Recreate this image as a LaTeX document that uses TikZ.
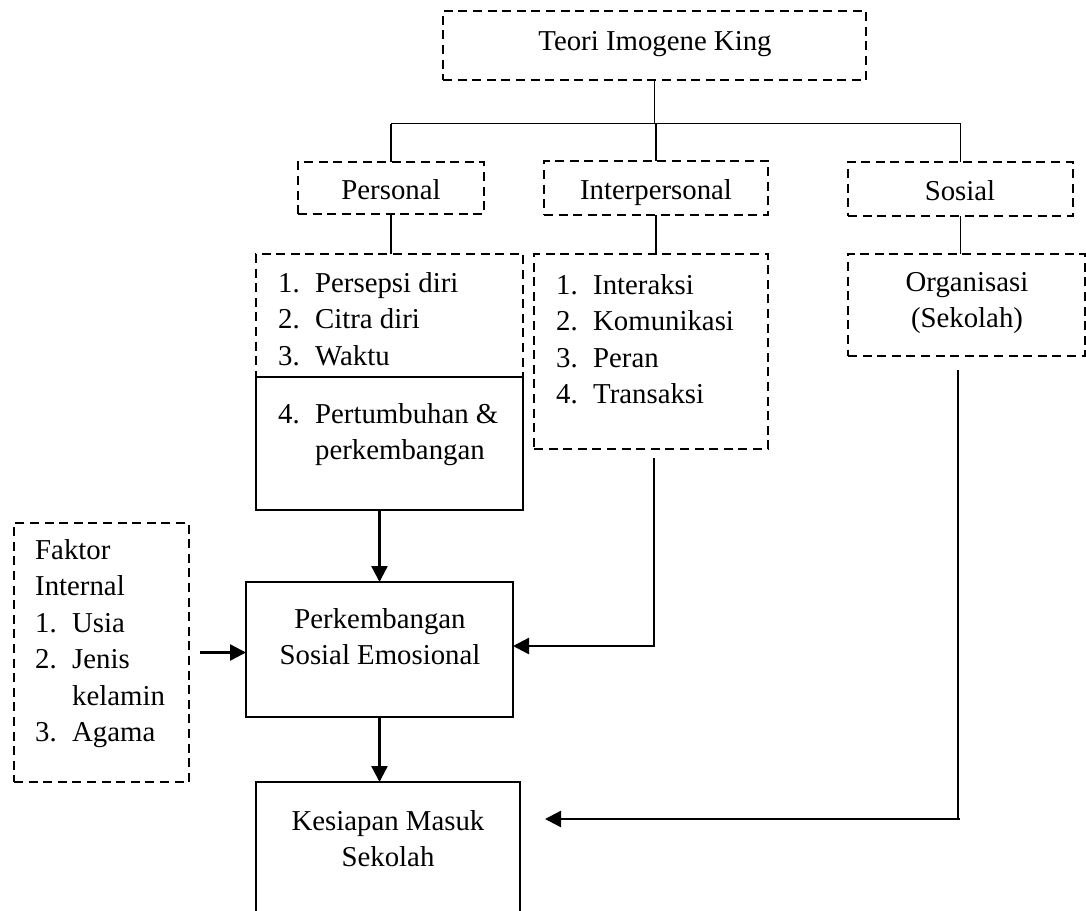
\documentclass[tikz,border=0pt]{standalone}
\usepackage{fontspec}
\setmainfont{Liberation Serif}
\usetikzlibrary{arrows.meta,calc}
\newcommand\itm[1]{\makebox[37pt][l]{#1}}
\begin{document}
\begin{tikzpicture}[x=1pt,y=-1pt,
  dbox/.style={draw,line width=2.6pt,dash pattern=on 9pt off 5.6pt,inner sep=0pt,outer sep=0pt},
  sbox/.style={draw,line width=2.6pt,inner sep=0pt,outer sep=0pt},
  txt/.style={font=\fontsize{28.8}{36.5}\selectfont,inner sep=0pt,align=left},
  ctxt/.style={font=\fontsize{28.8}{36.5}\selectfont,inner sep=0pt,align=center},
  conn/.style={line width=1.3pt},
  arr/.style={line width=2.4pt,-{Triangle[length=16pt,width=16pt]}}
]
\useasboundingbox (0,0) rectangle (1086,910);

% level 0 and 1
\node[dbox,minimum width=423pt,minimum height=69pt] (top) at (654.5,45.5) {};
\node[dbox,minimum width=186pt,minimum height=52pt] (per) at (391,188) {};
\node[dbox,minimum width=224pt,minimum height=54pt] (int) at (656,188) {};
\node[dbox,minimum width=225pt,minimum height=54pt] (sos) at (960.5,189) {};
\node[ctxt,anchor=base] (toptxt) at (655,50) {Teori Imogene King};
\node[ctxt,anchor=base] (pertxt) at (391,199) {Personal};
\node[ctxt,anchor=base] (inttxt) at (656,199) {Interpersonal};
\node[ctxt,anchor=base] (sostxt) at (960,200) {Sosial};

% level 2 boxes
\node[dbox,minimum width=267pt,minimum height=123pt] (plist) at (389.5,315.5) {};
\node[sbox,fill=white,minimum width=267pt,minimum height=133pt] (pert) at (389.5,443.5) {};
\node[dbox,minimum width=234pt,minimum height=195pt] (ilist) at (651,351.5) {};
\node[dbox,minimum width=237pt,minimum height=102pt] (org) at (966.5,305) {};

\node[txt,anchor=north west] (ptxt) at (278,272) {\itm{1.}Persepsi diri\\\itm{2.}Citra diri\\\itm{3.}Waktu};
\node[txt,anchor=north west] (perttxt) at (278,403) {\itm{4.}Pertumbuhan \&\\\itm{}perkembangan};
\node[txt,anchor=north west] (itxt) at (556,274) {\itm{1.}Interaksi\\\itm{2.}Komunikasi\\\itm{3.}Peran\\\itm{4.}Transaksi};
\node[ctxt,anchor=north] (otxt) at (967,272) {Organisasi\\(Sekolah)};

% lower boxes
\node[dbox,minimum width=175pt,minimum height=259pt] (fak) at (101.5,652.5) {};
\node[txt,anchor=north west] (ftxt) at (35,539) {Faktor\\Internal\\\itm{1.}Usia\\\itm{2.}Jenis\\\itm{}kelamin\\\itm{3.}Agama};
\node[sbox,minimum width=267pt,minimum height=135pt] (pk) at (379.5,649.5) {};
\node[ctxt,anchor=north] (pktxt) at (380,608) {Perkembangan\\Sosial Emosional};
\node[sbox,minimum width=264pt,minimum height=168pt] (kes) at (388,866) {};
\node[ctxt,anchor=north] (kestxt) at (388,810) {Kesiapan Masuk\\Sekolah};

% tree connectors
\coordinate (bar) at (654,123.5);
\draw[conn] (top.south) -- (top.south |- bar);
\draw[conn] (per.north |- bar) -- (sos.north |- bar);
\draw[conn] (per.north |- bar) -- (per.north);
\draw[conn] (int.north |- bar) -- (int.north);
\draw[conn] (sos.north |- bar) -- (sos.north);
\draw[conn] (per.south) -- (per.south |- plist.north);
\draw[conn] (int.south) -- (int.south |- ilist.north);
\draw[conn] (sos.south) -- (sos.south |- org.north);

% arrows
\draw[arr] (pk.north |- pert.south) -- (pk.north);
\draw[arr] (pk.south) -- (pk.south |- kes.north);
\draw[arr,shorten <=11pt] (fak.east) -- (fak.east -| pk.west);

\coordinate (c1) at (654,646);
\draw[conn,shorten <=9pt] (ilist.south -| c1) -- (c1);
\draw[arr] ([xshift=0.65pt]c1) -- (c1 -| pk.east);

\coordinate (c2) at (958,819);
\draw[conn,shorten <=14pt] (org.south -| c2) -- (c2);
\draw[arr,shorten >=25pt] ([xshift=2pt]c2) -- (c2 -| kes.east);
\end{tikzpicture}
\end{document}
